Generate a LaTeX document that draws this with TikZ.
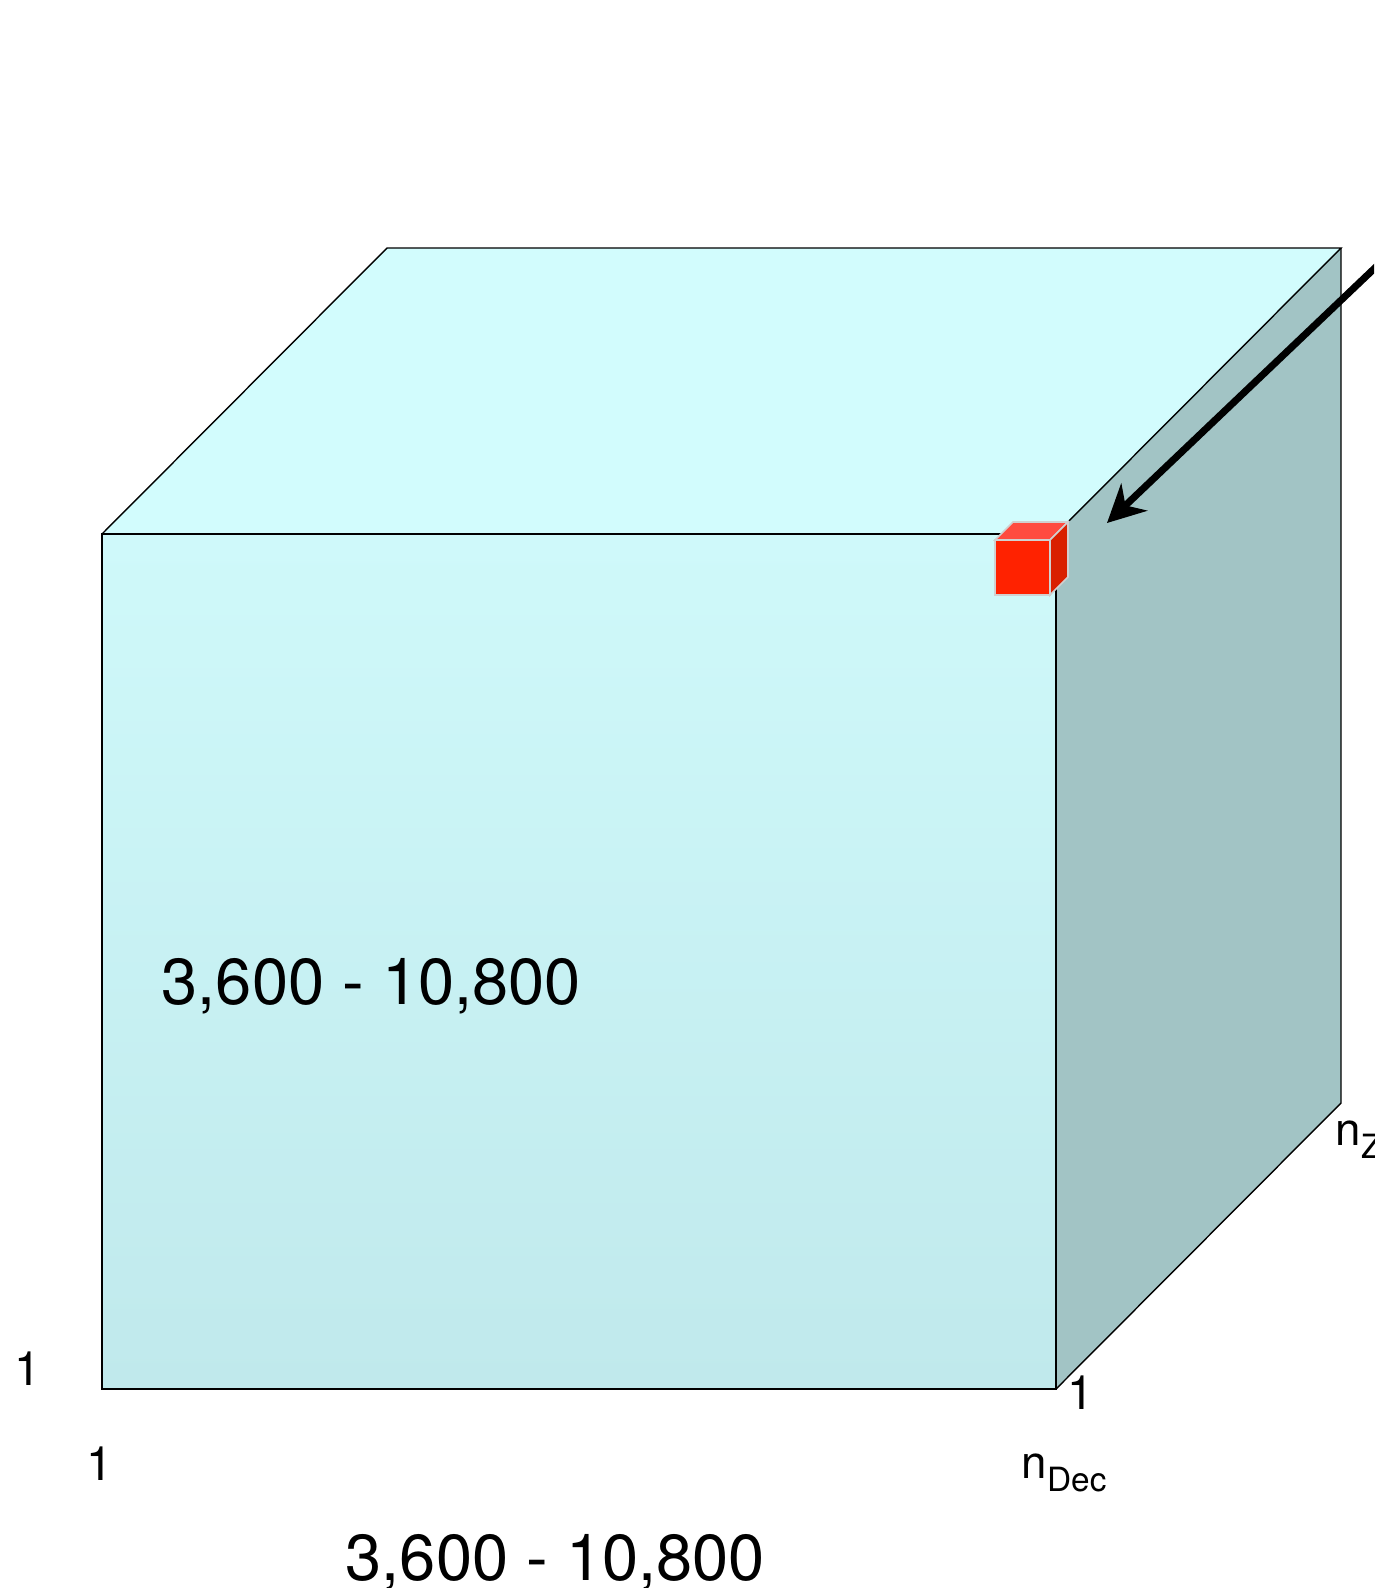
\documentclass[tikz,border=0pt]{standalone}
\usepackage{fontspec}
\setmainfont{TeX Gyre Heros}
\usetikzlibrary{arrows.meta, positioning}
\definecolor{ctop}{HTML}{D2FCFD}
\definecolor{cfronttop}{HTML}{CFF9FA}
\definecolor{cfrontbot}{HTML}{C0E9EC}
\definecolor{cside}{HTML}{A2C4C5}
\definecolor{credfront}{HTML}{FF2200}
\definecolor{credtop}{HTML}{FF4B40}
\definecolor{credside}{HTML}{D92000}
\definecolor{credge}{HTML}{D0D0D0}
\tikzset{
  every picture/.style={line width=0.8pt},
  cubeedge/.style={draw=black, line join=miter},
  celledge/.style={draw=credge, line width=0.9pt, line join=miter},
  bigtext/.style={font=\fontsize{37}{44}\selectfont, inner sep=0pt, anchor=base west},
  ticktext/.style={font=\fontsize{27}{32}\selectfont, inner sep=0pt, anchor=base},
  axisname/.style={font=\fontsize{26}{31}\selectfont, inner sep=0pt, anchor=base west},
  pointer/.style={-{Stealth[length=0.75cm, width=0.75cm, inset=0.24cm]}, line width=4pt},
}
\newcommand{\lowsub}[1]{\raisebox{-7.4pt}{\fontsize{19}{23}\selectfont #1}}

\begin{document}
\begin{tikzpicture}[x=0.02cm, y=-0.02cm]
  \useasboundingbox (0,0) rectangle (1374,1588);
  \clip (0,0) rectangle (1374,1588);
  % big cube
  \coordinate (ftl) at (102,534);
  \coordinate (ftr) at (1056,534);
  \coordinate (fbr) at (1056,1389);
  \coordinate (fbl) at (102,1389);
  \coordinate (btl) at (387,248);
  \coordinate (btr) at (1341,248);
  \coordinate (bbr) at (1341,1103);
  \shade[top color=cfronttop, bottom color=cfrontbot] (ftl) rectangle (fbr);
  \fill[ctop] (ftl) -- (btl) -- (btr) -- (ftr) -- cycle;
  \fill[cside] (ftr) -- (btr) -- (bbr) -- (fbr) -- cycle;
  \draw[cubeedge] (ftl) rectangle (fbr);
  \draw[cubeedge] (ftl) -- (btl) -- (btr) -- (ftr);
  \draw[cubeedge] (btr) -- (bbr) -- (fbr);
  % red cell
  \coordinate (rtl) at (995,540);
  \coordinate (rtr) at (1050,540);
  \coordinate (rbr) at (1050,595);
  \coordinate (rbl) at (995,595);
  \coordinate (rbtl) at (1013,522);
  \coordinate (rbtr) at (1068,522);
  \coordinate (rbbr) at (1068,577);
  \filldraw[celledge, fill=credfront] (rtl) rectangle (rbr);
  \filldraw[celledge, fill=credtop] (rtl) -- (rbtl) -- (rbtr) -- (rtr) -- cycle;
  \filldraw[celledge, fill=credside] (rtr) -- (rbtr) -- (rbbr) -- (rbr) -- cycle;
  % pointer
  \coordinate (tail) at (1420,225);
  \coordinate (tip) at (1107,523);
  \draw[pointer] (tail) -- (tip);
  % labels
  \node[bigtext] (ralabel) at (161,1004) {3,600 - 10,800};
  \node[bigtext] (declabel) at (345,1580) {3,600 - 10,800};
  \node[ticktext] (yone) at (28,1385) {1};
  \node[ticktext] (xone) at (100,1480) {1};
  \node[ticktext] (zone) at (1081,1409) {1};
  \node[axisname] (ndec) at (1021,1478) {n\lowsub{Dec}};
  \node[axisname] (nz) at (1335,1145) {n\lowsub{Z}};
\end{tikzpicture}
\end{document}
